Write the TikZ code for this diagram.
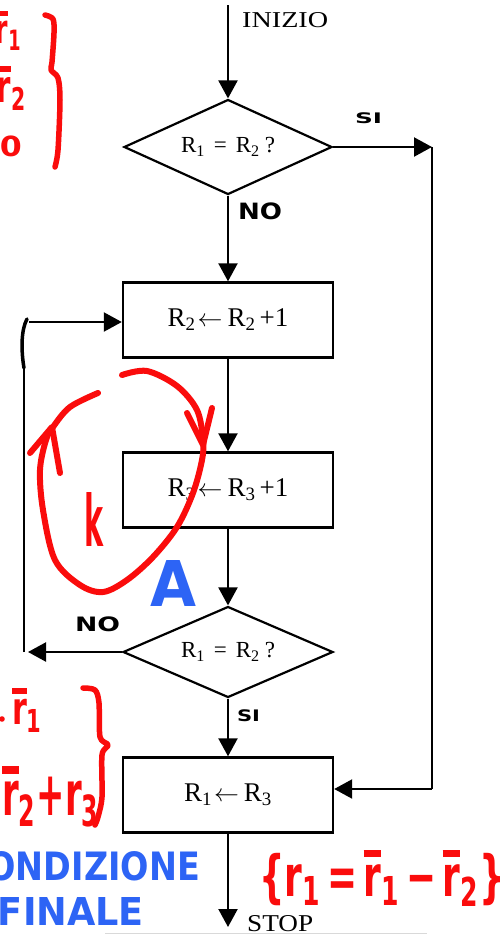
\documentclass[tikz,border=0pt]{standalone}
\usepackage{fontspec}
\usepackage{graphicx}
\setmainfont{Liberation Serif}
\newfontfamily\handfont{DejaVu Sans}
\usetikzlibrary{arrows.meta,shapes.geometric}
\definecolor{hred}{RGB}{250,12,12}
\definecolor{hblue}{RGB}{45,100,245}
\newcommand{\rbar}[1]{\vbox{\hrule height .13em\kern .12em\hbox{r}}\textsubscript{#1}}
\begin{document}
\begin{tikzpicture}[x=1pt,y=-1pt,
  ln/.style={line width=2.2pt},
  arr/.style={line width=2.2pt,-{Triangle[length=18pt,width=19pt]}},
  boxnode/.style={draw,line width=2.4pt,minimum width=210pt,minimum height=75pt,inner sep=0pt,font=\fontsize{27}{27}\selectfont},
  dianode/.style={draw,diamond,line width=2.2pt,aspect=2.2,inner sep=0pt,font=\fontsize{23}{23}\selectfont},
  hnd/.style={inner sep=0pt,outer sep=0pt,font=\handfont\bfseries},
  redstroke/.style={hred,line width=6pt,line cap=round,line join=round},
  blackstroke/.style={black,line width=3.5pt,line cap=round}]
\fill[white] (0,0) rectangle (499,935);
\useasboundingbox (0,0) rectangle (499,935);

% flowchart nodes
\node[dianode,minimum width=208pt,minimum height=95pt] (d1) at (228,147) {R\textsubscript{1}\hspace{9pt}=\hspace{9pt}R\textsubscript{2}\hspace{5pt}?};
\node[boxnode] (b1) at (228,320) {\raisebox{-2pt}{R\textsubscript{2}\hspace{2pt}$\leftarrow$\hspace{5pt}R\textsubscript{2}\hspace{4pt}+1}};
\node[boxnode] (b2) at (228,490) {\raisebox{-2pt}{R\textsubscript{3}\hspace{2pt}$\leftarrow$\hspace{5pt}R\textsubscript{3}\hspace{4pt}+1}};
\node[dianode,minimum width=210pt,minimum height=91pt] (d2) at (228,652) {R\textsubscript{1}\hspace{9pt}=\hspace{9pt}R\textsubscript{2}\hspace{5pt}?};
\node[boxnode] (b3) at (228,795) {\raisebox{-4pt}{R\textsubscript{1}\hspace{2pt}$\leftarrow$\hspace{5pt}R\textsubscript{3}}};

\node[inner sep=0pt,anchor=base west] (ini) at (242,27) {\resizebox{86pt}{15pt}{INIZIO}};
\node[inner sep=0pt,anchor=base west] (stp) at (247,931) {\resizebox{66pt}{16pt}{STOP}};

% coordinates
\coordinate (s) at (228,5);
\coordinate (e) at (228,927);
\coordinate (r1) at (432,147);
\coordinate (r2) at (432,789);
\coordinate (l0) at (28,652);
\coordinate (l1) at (24,652);
\coordinate (l2) at (24,368);
\coordinate (l3) at (27,319);
\coordinate (l4) at (29,322);

% connectors
\draw[arr] (s) -- (d1.north);
\draw[arr] (d1.south) -- (b1.north);
\draw[arr] (b1.south) -- (b2.north);
\draw[arr] (b2.south) -- (d2.north);
\draw[arr] (d2.south) -- (b3.north);
\draw[arr] (b3.south) -- (e);
\draw[arr] (d1.east) -- (r1);
\draw[ln] (r1) -- (r2);
\draw[arr] (r2) -- (r2 -| b3.east);
\draw[arr] (d2.west) -- (l0);
\draw[ln] (l1) -- (l2);
\draw[blackstroke] (l2) .. controls (21,350) and (21,330) .. (l3);
\draw[arr] (l4) -- (l4 -| b1.west);

% handwritten black labels
\node[hnd,anchor=north west] (si1) at (355,113) {\resizebox*{27pt}{11pt}{SI}};
\node[hnd,anchor=north west] (no1) at (238,203) {\resizebox*{44pt}{17pt}{NO}};
\node[hnd,anchor=north west] (no2) at (75,617) {\resizebox*{45pt}{15pt}{NO}};
\node[hnd,anchor=north west] (si2) at (237,710) {\resizebox*{23pt}{12pt}{SI}};

% red loop annotation
\draw[redstroke] plot[smooth,tension=0.55] coordinates {(122,375) (147,371) (177,386) (197,410) (203,440) (202,460) (193,493) (177,527) (153,557) (127,580) (103,592) (80,585) (55,560) (43,510) (40,470) (46,440) (53,427) (70,407) (98,393)};
\draw[redstroke] (187,413) -- (203,445) -- (212,408);
\draw[redstroke] (30,453) -- (52,427) -- (60,473);
\node[hnd,text=hred,anchor=south west] (k) at (84,546) {\resizebox*{19pt}{54pt}{k}};
\node[hnd,text=hblue,anchor=south west] (A) at (150,606) {\resizebox*{46pt}{46pt}{A}};

% top-left red annotation
\node[hnd,text=hred,anchor=north east] (t1) at (22,11) {\resizebox*{26pt}{39pt}{\rbar{1}}};
\node[hnd,text=hred,anchor=north east] (t2) at (27,66) {\resizebox*{30pt}{44pt}{\rbar{2}}};
\node[hnd,text=hred,anchor=north east] (t3) at (22,136) {\resizebox*{22pt}{21pt}{0}};
\draw[redstroke,line width=5.5pt] plot[smooth,tension=0.5] coordinates {(45,15) (53,19) (54,33) (52,62) (51,70) (58,78) (60,100) (58,150) (55,167)};

% bottom-left red annotation
\fill[hred] (2,719) circle (2.8pt);
\node[hnd,text=hred,anchor=north west] (t4) at (12,688) {\resizebox*{31pt}{44pt}{\rbar{1}}};
\node[hnd,text=hred,anchor=north west] (t5) at (2,766) {\resizebox*{98pt}{61pt}{\rbar{2}+r\textsubscript{3}}};
\draw[redstroke,line width=5.5pt] plot[smooth,tension=0.5] coordinates {(83,688) (95,690) (99,703) (100,737) (108,745) (102,755) (102,797) (98,817) (95,825)};

% bottom texts
\node[hnd,text=hblue,anchor=base west] (c1) at (-37,880) {\resizebox{237pt}{29pt}{CONDIZIONE}};
\node[hnd,text=hblue,anchor=base west] (c2) at (-2,925) {\resizebox{146pt}{28pt}{FINALE}};
\node[hnd,text=hred,anchor=north west] (eq) at (259,850) {\resizebox*{246pt}{56pt}{\{r\textsubscript{1}\,=\,\rbar{1}\,−\,\rbar{2}\}}};

\draw[black!15,line width=1pt] (105,933.5) -- (427,933.5);
\end{tikzpicture}
\end{document}
